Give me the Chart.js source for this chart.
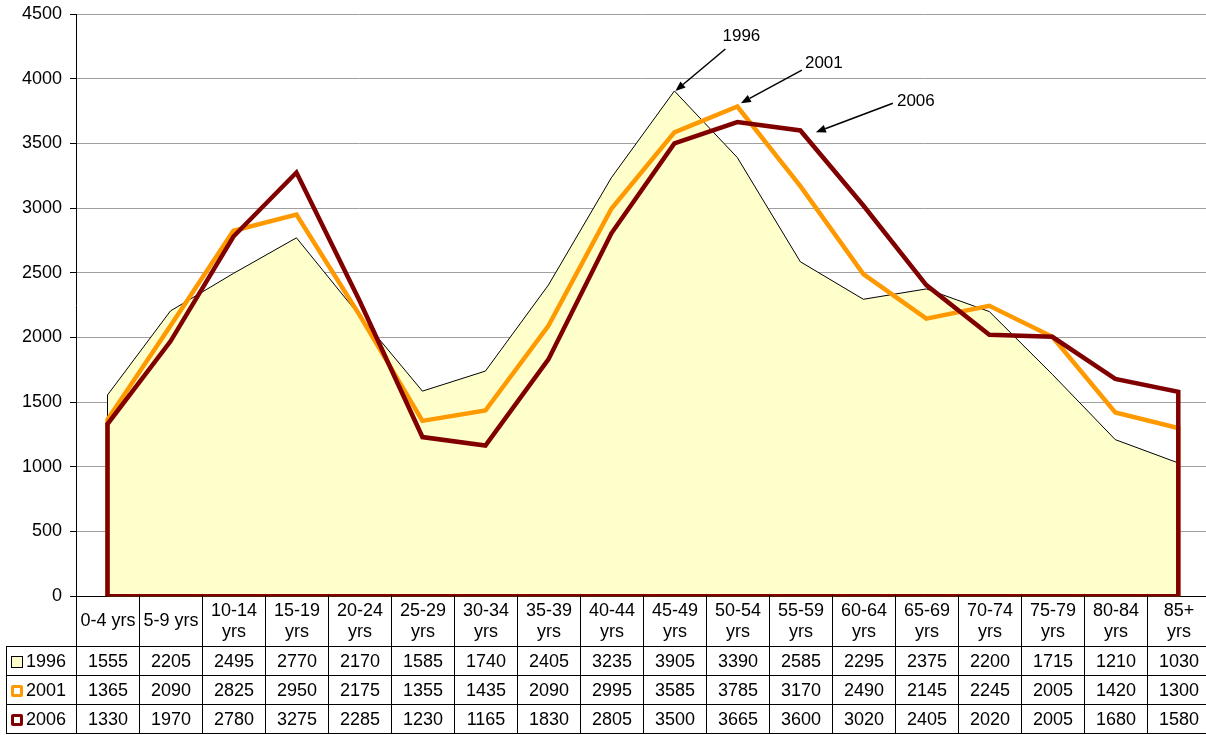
<!DOCTYPE html>
<html>
<head>
<meta charset="utf-8">
<script src="https://cdn.jsdelivr.net/npm/chart.js@4.4.1/dist/chart.umd.min.js"></script>
<style>
    html, body { margin: 0; padding: 0; background: #fff; overflow: hidden; width: 1206px; height: 735px; }
    #wrap { position: relative; width: 1206px; height: 735px; overflow: hidden; }
    #chart { position: absolute; left: 0; top: 0; }
    #tbl {
        position: absolute; left: 6px; top: 595px; width: 1204px;
        border-collapse: collapse; table-layout: fixed;
        font-family: "Liberation Sans", Arial, sans-serif; font-size: 18px; color: #000;
    }
    #tbl td { border: 1px solid #000; text-align: center; padding: 0; line-height: 21px; }
    #tbl tr.head td { border-top: none; height: 51px; padding: 0 3px; }
    #tbl tr.head td.corner { border: none; }
    #tbl tr.row td { height: 28px; }
    #tbl td.lbl { text-align: left; padding-left: 4px; white-space: nowrap; }
    .key { display: inline-block; width: 12px; height: 12px; box-sizing: border-box; margin-right: 3px; vertical-align: -1px; }
</style>
</head>
<body>
<div id="wrap">
    <canvas id="chart" width="1206" height="615"></canvas>
    <table id="tbl"></table>
</div>
<script>
// categorie (fasce d'età) e serie
const ages = ['0-4 yrs', '5-9 yrs', '10-14 yrs', '15-19 yrs', '20-24 yrs', '25-29 yrs', '30-34 yrs',
    '35-39 yrs', '40-44 yrs', '45-49 yrs', '50-54 yrs', '55-59 yrs', '60-64 yrs', '65-69 yrs',
    '70-74 yrs', '75-79 yrs', '80-84 yrs', '85+ yrs'];
const years = ['1996', '2001', '2006'];
const pop1996 = [1555, 2205, 2495, 2770, 2170, 1585, 1740, 2405, 3235, 3905, 3390, 2585, 2295, 2375, 2200, 1715, 1210, 1030];
const pop2001 = [1365, 2090, 2825, 2950, 2175, 1355, 1435, 2090, 2995, 3585, 3785, 3170, 2490, 2145, 2245, 2005, 1420, 1300];
const pop2006 = [1330, 1970, 2780, 3275, 2285, 1230, 1165, 1830, 2805, 3500, 3665, 3600, 3020, 2405, 2020, 2005, 1680, 1580];
const series = [pop1996, pop2001, pop2006];

const yMin = 0, yMax = 4500, yStep = 500;

// stili (non dati)
const fills = ['#FFFFCC', 'rgba(0,0,0,0)', 'rgba(0,0,0,0)'];
const borders = ['#000000', '#FF9900', '#800000'];
const widths = [1, 4.5, 4.5];

// frecce delle etichette: offset in pixel rispetto al punto indicato
const notes = [
    { s: 0, idx: 9, tip: [1, 0], tail: [51, -42], text: [67, -55] },
    { s: 1, idx: 10, tip: [3.5, -3.3], tail: [64.5, -36.3], text: [86.5, -43.3] },
    { s: 2, idx: 11, tip: [15.5, 1.8], tail: [92.5, -27.2], text: [115.5, -29.2] }
];

// contorno chiuso come un grafico ad area di Excel
function outline(values, close) {
    const pts = [{ x: 0, y: 0 }];
    values.forEach((v, i) => pts.push({ x: i, y: v }));
    pts.push({ x: values.length - 1, y: 0 });
    if (close) pts.push({ x: 0, y: 0 });
    return pts;
}

const datasets = series.map((vals, k) => ({
    label: years[k],
    data: outline(vals, k > 0),
    fill: k === 0 ? 'origin' : false,
    backgroundColor: fills[k],
    borderColor: borders[k],
    borderWidth: widths[k],
    pointRadius: 0,
    tension: 0,
    order: 3 - k
}));

const arrowPlugin = {
    id: 'arrows',
    afterDatasetsDraw(chart) {
        const ctx = chart.ctx;
        const xs = chart.scales.x, ys = chart.scales.y;
        ctx.save();
        notes.forEach(n => {
            const px = xs.getPixelForValue(n.idx);
            const py = ys.getPixelForValue(series[n.s][n.idx]);
            const tx = px + n.tip[0], ty = py + n.tip[1];
            const sx = px + n.tail[0], sy = py + n.tail[1];
            const ang = Math.atan2(ty - sy, tx - sx);
            const len = 10, half = 4;
            const bx = tx - len * Math.cos(ang), by = ty - len * Math.sin(ang);
            ctx.strokeStyle = '#000';
            ctx.fillStyle = '#000';
            ctx.lineWidth = 1.5;
            ctx.beginPath();
            ctx.moveTo(sx, sy);
            ctx.lineTo(bx, by);
            ctx.stroke();
            ctx.beginPath();
            ctx.moveTo(tx, ty);
            ctx.lineTo(bx + half * Math.sin(ang), by - half * Math.cos(ang));
            ctx.lineTo(bx - half * Math.sin(ang), by + half * Math.cos(ang));
            ctx.closePath();
            ctx.fill();
            ctx.font = '17px "Liberation Sans", Arial, sans-serif';
            ctx.textAlign = 'center';
            ctx.textBaseline = 'middle';
            ctx.fillText(years[n.s], px + n.text[0], py + n.text[1]);
        });
        ctx.restore();
    }
};

new Chart(document.getElementById('chart').getContext('2d'), {
    type: 'line',
    data: { datasets: datasets },
    options: {
        responsive: false,
        animation: false,
        devicePixelRatio: 1,
        layout: { padding: { top: 14, right: 0, bottom: 3, left: 0 } },
        plugins: { legend: { display: false }, tooltip: { enabled: false } },
        scales: {
            x: {
                type: 'linear',
                min: -0.5,
                max: 17.44,
                ticks: { display: false },
                grid: { display: false, drawTicks: false },
                border: { display: true, color: '#000', width: 1 },
                afterFit: function (scale) { scale.height = 0; }
            },
            y: {
                min: yMin,
                max: yMax,
                ticks: {
                    stepSize: yStep,
                    color: '#000',
                    padding: 8,
                    font: { family: '"Liberation Sans", Arial, sans-serif', size: 18 },
                    callback: function (value) { return String(value); }
                },
                grid: { color: '#A0A0A0', lineWidth: 1, tickLength: 6, tickColor: '#000' },
                border: { display: true, color: '#000', width: 1 },
                afterFit: function (scale) { scale.width = 76; scale.paddingTop = 0; }
            }
        }
    },
    plugins: [arrowPlugin]
});

// tabella dati sotto il grafico
const tbl = document.getElementById('tbl');
let html = '<colgroup><col style="width:70px">' + ages.map(() => '<col style="width:63px">').join('') + '</colgroup>';
html += '<tr class="head"><td class="corner"></td>' + ages.map(a => '<td>' + a + '</td>').join('') + '</tr>';
const keyStyles = [
    'border:1px solid #000;background:#FFFFCC;',
    'border:3px solid #FF9900;background:#fff;border-radius:2px;',
    'border:3px solid #800000;background:#fff;border-radius:2px;'
];
series.forEach((vals, k) => {
    html += '<tr class="row"><td class="lbl"><span class="key" style="' + keyStyles[k] + '"></span>' + years[k] + '</td>' +
        vals.map(v => '<td>' + v + '</td>').join('') + '</tr>';
});
tbl.innerHTML = html;
</script>
</body>
</html>
